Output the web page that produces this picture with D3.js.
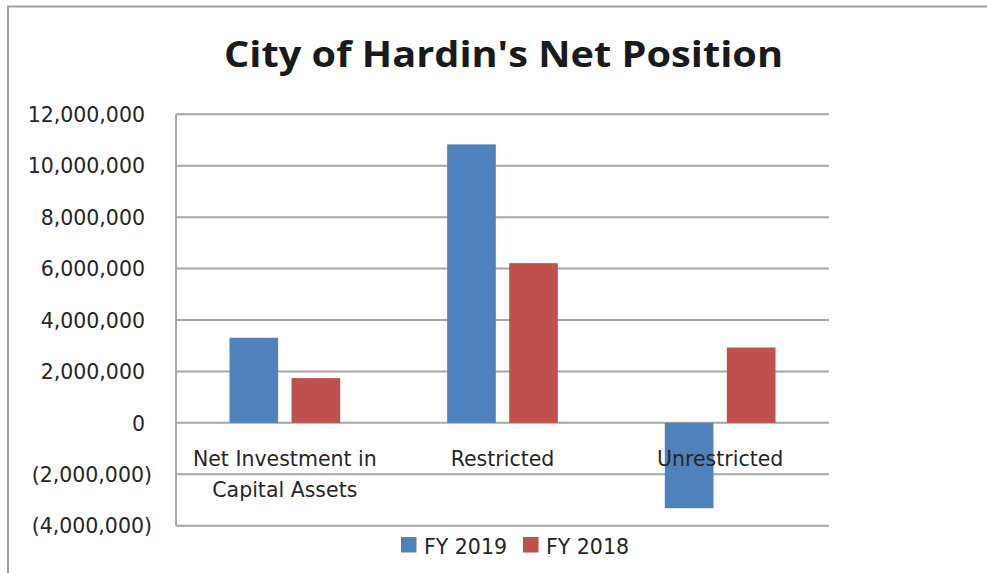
<!DOCTYPE html>
<html><head><meta charset="utf-8">
<script src="https://cdn.jsdelivr.net/npm/d3@7/dist/d3.min.js"></script>
<style>html,body{margin:0;padding:0;background:#fff;}svg{display:block;}</style>
</head><body>
<svg id="chart" width="987" height="573"></svg>
<script>
const categories = [["Net Investment in", "Capital Assets"], ["Restricted"], ["Unrestricted"]];
const seriesNames = ["FY 2019", "FY 2018"];
const fy2019 = [3310000, 10830000, -3320000];
const fy2018 = [1740000, 6210000, 2930000];
const tickValues = [12000000, 10000000, 8000000, 6000000, 4000000, 2000000, 0, -2000000, -4000000];
const colors = ["#4F81BD", "#C0504D"];

(function () {
const svg = d3.select("#chart");
const W = 987, H = 573;
const pLeft = 176, pRight = 829, pTop = 114.3, pBottom = 525.7;
const font = "'DejaVu Sans', Verdana, sans-serif";

// outer border
svg.append("rect").attr("x", 8).attr("y", 6.5).attr("width", W + 10).attr("height", H + 10)
  .attr("fill", "none").attr("stroke", "#a0a0a0").attr("stroke-width", 2);

// title
const title = svg.append("text").attr("x", 503.5).attr("y", 67).attr("text-anchor", "middle")
  .attr("font-family", "'Open Sans', sans-serif").attr("font-weight", "bold")
  .attr("font-size", 35).attr("fill", "#1a1a1a")
  .text("City of Hardin's Net Position");
title.attr("textLength", 559).attr("lengthAdjust", "spacingAndGlyphs");

const y = d3.scaleLinear().domain([-4000000, 12000000]).range([pBottom, pTop]);
const x = d3.scaleBand().domain(d3.range(categories.length)).range([pLeft, pRight]).padding(0);

// gridlines
svg.append("g").selectAll("line").data(tickValues).join("line")
  .attr("x1", pLeft).attr("x2", pRight)
  .attr("y1", d => y(d)).attr("y2", d => y(d))
  .attr("stroke", "#a6a6a6").attr("stroke-width", 2);

// y axis
const fmt = d => d < 0 ? "(" + d3.format(",")(-d) + ")" : d3.format(",")(d);
const yAxis = d3.axisLeft(y).tickValues(tickValues).tickFormat(fmt).tickSize(0).tickPadding(0);
const ga = svg.append("g").attr("transform", `translate(${pLeft},0)`).call(yAxis);
ga.select(".domain").remove();
ga.selectAll("text").attr("font-family", font).attr("font-size", 20.5).attr("fill", "#262626")
  .attr("x", d => d < 0 ? -24 : -31).attr("dy", "0.35em");
svg.append("line").attr("x1", pLeft).attr("x2", pLeft).attr("y1", pTop).attr("y2", pBottom)
  .attr("stroke", "#a6a6a6").attr("stroke-width", 2);

// bars
const bw = x.bandwidth() * 0.2235, off = x.bandwidth() * 0.1425;
[fy2019, fy2018].forEach((vals, si) => {
  svg.append("g").selectAll("rect").data(vals).join("rect")
    .attr("x", (d, i) => x(i) + x.bandwidth() / 2 + (si === 0 ? -off : off) - bw / 2)
    .attr("width", bw)
    .attr("y", d => y(Math.max(0, d)))
    .attr("height", d => Math.abs(y(d) - y(0)))
    .attr("fill", colors[si]);
});

// category labels
categories.forEach((lines, i) => {
  const cx = x(i) + x.bandwidth() / 2;
  const t = svg.append("text").attr("x", cx).attr("y", 466)
    .attr("text-anchor", "middle").attr("font-family", font).attr("font-size", 20.5).attr("fill", "#262626");
  lines.forEach((l, j) => t.append("tspan").attr("x", cx).attr("dy", j === 0 ? 0 : 31).text(l));
});

// legend
const legX = [401, 523];
seriesNames.forEach((n, i) => {
  svg.append("rect").attr("x", legX[i]).attr("y", 537).attr("width", 15.5).attr("height", 15.5).attr("fill", colors[i]);
  svg.append("text").attr("x", legX[i] + 23).attr("y", 553.5).attr("font-family", font)
    .attr("font-size", 20.5).attr("fill", "#262626").text(n);
});
})();
</script>
</body></html>
